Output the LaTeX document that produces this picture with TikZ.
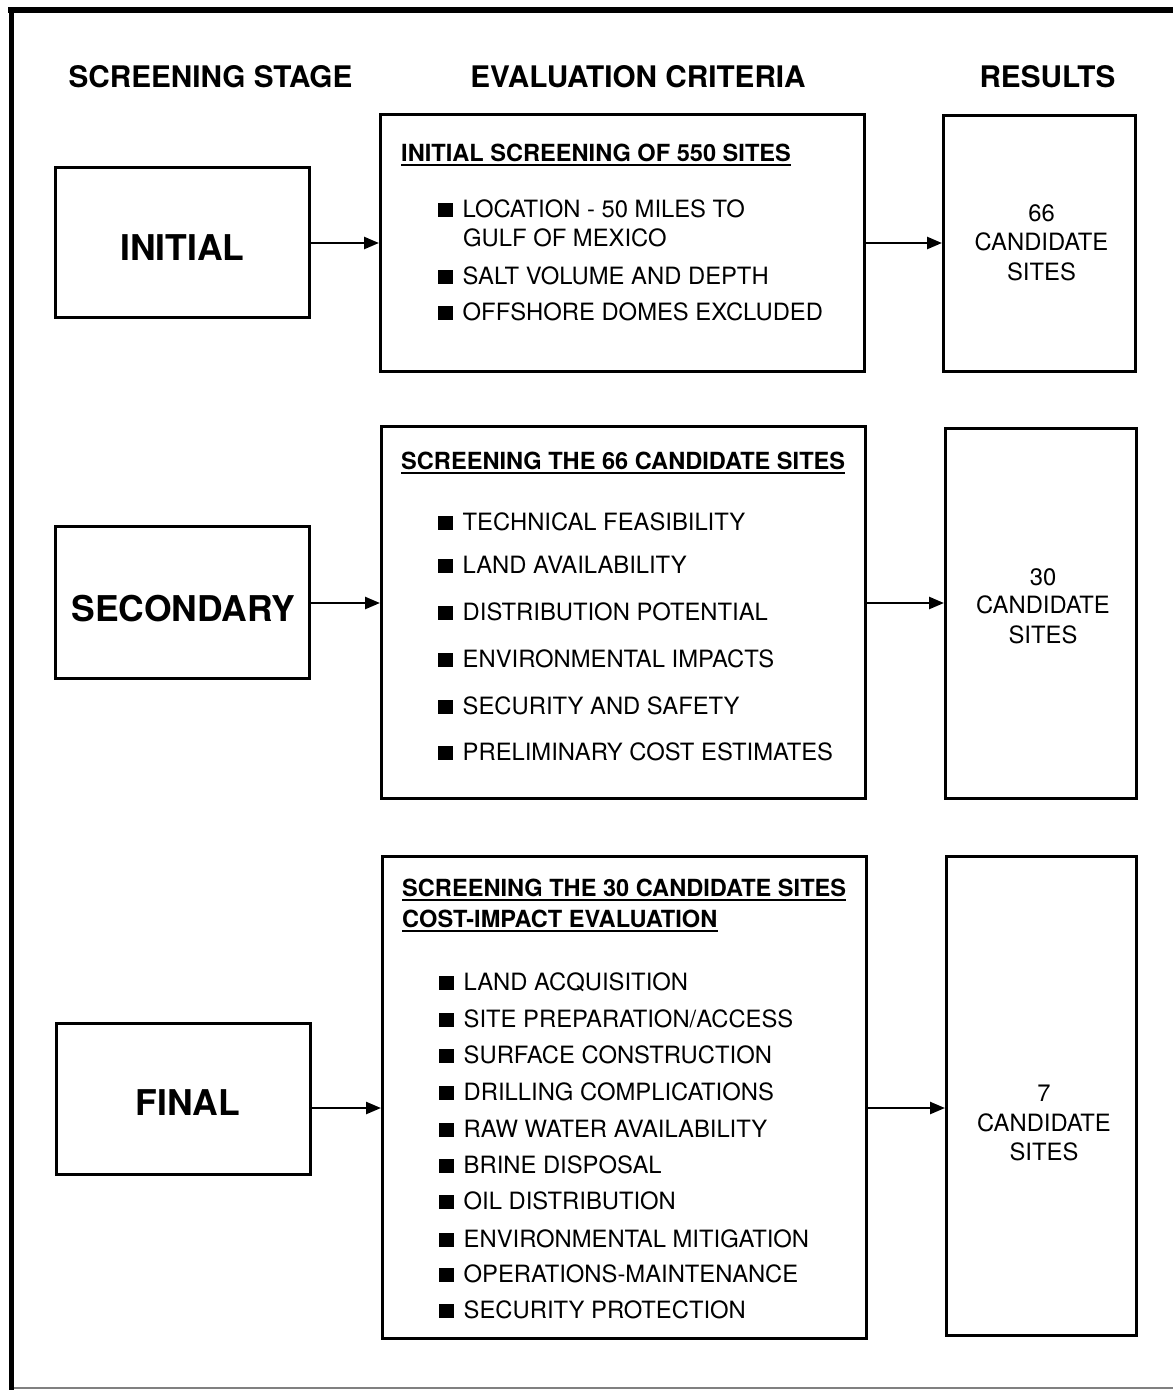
\documentclass[tikz,border=0pt]{standalone}
\usepackage{fontspec}
\setmainfont{TeX Gyre Heros}
\usetikzlibrary{arrows.meta}
\newcommand{\spacc}{SITE PREPARATION/ACCESS}
\begin{document}
\begin{tikzpicture}[x=1pt,y=-1pt,
  box/.style={draw, line width=3pt, inner sep=0pt},
  hdr/.style={font=\fontsize{29.7}{34}\selectfont\bfseries, inner sep=0pt, anchor=base},
  stagetxt/.style={font=\fontsize{35.5}{40}\selectfont\bfseries, inner sep=0pt, anchor=base},
  ttl/.style={font=\fontsize{23.6}{28}\selectfont\bfseries, inner sep=0pt, anchor=base west},
  itm/.style={font=\fontsize{23.8}{28}\selectfont, inner sep=0pt, anchor=base west},
  res/.style={font=\fontsize{23.8}{28}\selectfont, inner sep=0pt, anchor=base},
  conn/.style={line width=2.5pt, -{Triangle[length=15pt,width=12pt]}},
  uline/.style={line width=2pt}]
\useasboundingbox (0,0) rectangle (1173,1390);
\newcommand{\bul}{\rule{15pt}{14pt}\hspace{9.5pt}}
% outer frame
\draw[line width=6pt] (8,10) -- (1173,10);
\draw[line width=5pt] (11,8) -- (11,1390);
\draw[gray, line width=1.5pt] (14,1388) -- (1173,1388);
% headers
\node[hdr] (h1) at (210.5,87) {SCREENING STAGE};
\node[hdr] (h2) at (638,87) {EVALUATION CRITERIA};
\node[hdr] (h3) at (1047.5,87) {RESULTS};
% stage boxes
\node[box, minimum width=254, minimum height=150] (s1) at (182.5,242.5) {};
\node[box, minimum width=254, minimum height=152] (s2) at (182.5,602.5) {};
\node[box, minimum width=254, minimum height=151] (s3) at (183.5,1099) {};
\node[stagetxt] (s1t) at (182.5,260) {INITIAL};
\node[stagetxt] (s2t) at (183.5,621) {SECONDARY};
\node[stagetxt] (s3t) at (188,1115) {FINAL};
% criteria boxes
\node[box, minimum width=484, minimum height=257] (c1) at (622.5,243) {};
\node[box, minimum width=484, minimum height=372] (c2) at (623.5,612.5) {};
\node[box, minimum width=484, minimum height=482] (c3) at (624.5,1097.5) {};
% result boxes
\node[box, minimum width=192, minimum height=256] (r1) at (1039.5,243.5) {};
\node[box, minimum width=191, minimum height=370] (r2) at (1041,613.5) {};
\node[box, minimum width=190, minimum height=479] (r3) at (1041.5,1096) {};
% arrow heights
\coordinate (ya) at (0,243);
\coordinate (yb) at (0,603);
\coordinate (yc) at (0,1108);
\draw[conn] (s1.east |- ya) -- (c1.west |- ya);
\draw[conn] (c1.east |- ya) -- (r1.west |- ya);
\draw[conn] (s2.east |- yb) -- (c2.west |- yb);
\draw[conn] (c2.east |- yb) -- (r2.west |- yb);
\draw[conn] (s3.east |- yc) -- (c3.west |- yc);
\draw[conn] (c3.east |- yc) -- (r3.west |- yc);
% box 1 contents
\node[ttl] (t1) at (401,161) {INITIAL SCREENING OF 550 SITES};
\draw[uline] ([yshift=-4pt]t1.base west) -- ([yshift=-4pt]t1.base east);
\node[itm] (i11) at (438,217) {\bul LOCATION - 50 MILES TO};
\node[itm] (i11b) at (463,246) {GULF OF MEXICO};
\node[itm] (i12) at (438,284) {\bul SALT VOLUME AND DEPTH};
\node[itm] (i13) at (438,320) {\bul OFFSHORE DOMES EXCLUDED};
% box 2 contents
\node[ttl] (t2) at (401,469) {SCREENING THE 66 CANDIDATE SITES};
\draw[uline] ([yshift=-4pt]t2.base west) -- ([yshift=-4pt]t2.base east);
\foreach \txt/\yy [count=\k] in {TECHNICAL FEASIBILITY/530, LAND AVAILABILITY/573, DISTRIBUTION POTENTIAL/620, ENVIRONMENTAL IMPACTS/667, SECURITY AND SAFETY/714, PRELIMINARY COST ESTIMATES/760}
  \node[itm] (i2\k) at (438,\yy) {\bul \txt};
% box 3 contents
\node[ttl] (t3a) at (402,896) {SCREENING THE 30 CANDIDATE SITES};
\draw[uline] ([yshift=-4pt]t3a.base west) -- ([yshift=-4pt]t3a.base east);
\node[ttl] (t3b) at (402,927) {COST-IMPACT EVALUATION};
\draw[uline] ([yshift=-4pt]t3b.base west) -- ([yshift=-4pt]t3b.base east);
\foreach \txt/\yy [count=\k] in {LAND ACQUISITION/990, \spacc/1027, SURFACE CONSTRUCTION/1063, DRILLING COMPLICATIONS/1100, RAW WATER AVAILABILITY/1137, BRINE DISPOSAL/1173, OIL DISTRIBUTION/1209, ENVIRONMENTAL MITIGATION/1247, OPERATIONS-MAINTENANCE/1282, SECURITY PROTECTION/1318}
  \node[itm] (i3\k) at (439,\yy) {\bul \txt};
% results
\node[res] (r1a) at (1041.5,221) {66};
\node[res] (r1b) at (1041.5,250) {CANDIDATE};
\node[res] (r1c) at (1041.5,280) {SITES};
\node[res] (r2a) at (1043,585) {30};
\node[res] (r2b) at (1043,613) {CANDIDATE};
\node[res] (r2c) at (1043,643) {SITES};
\node[res] (r3a) at (1044,1101) {7};
\node[res] (r3b) at (1044,1131) {CANDIDATE};
\node[res] (r3c) at (1044,1160) {SITES};
\end{tikzpicture}
\end{document}
